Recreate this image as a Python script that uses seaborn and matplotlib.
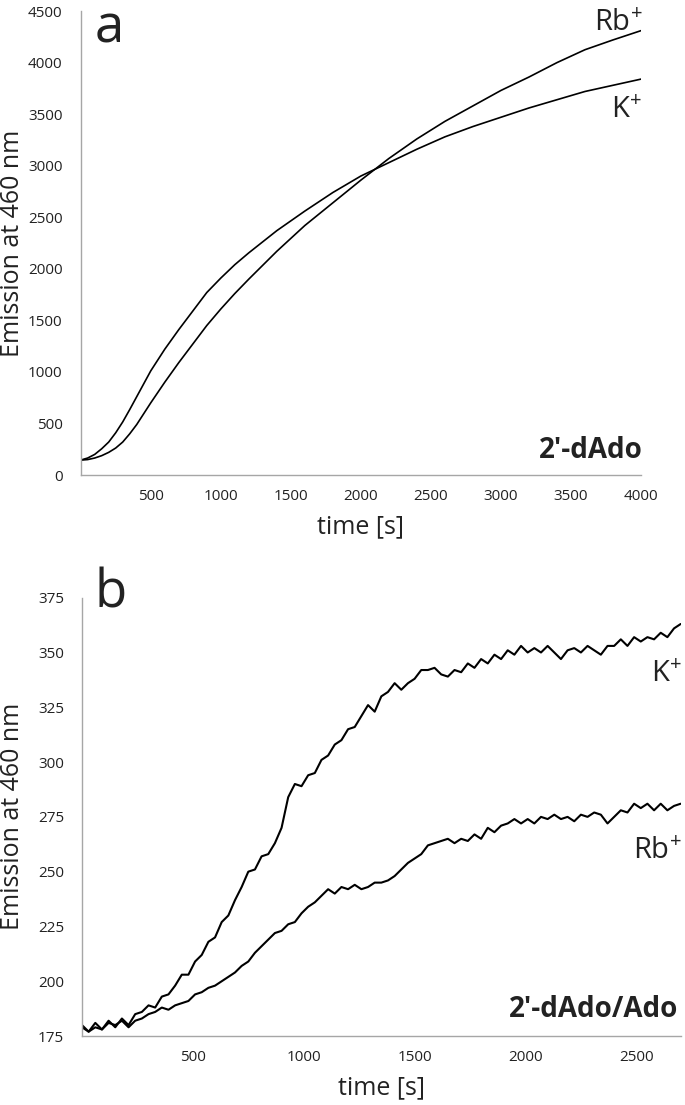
import matplotlib
matplotlib.use('Agg')
import matplotlib.pyplot as plt
import seaborn as sns
import pandas as pd

# panel a: 2'-dAdo, emission vs time
time_a = [0, 50, 100, 150, 200, 250, 300, 350, 400, 450, 500,
          600, 700, 800, 900, 1000, 1100, 1200, 1400, 1600, 1800,
          2000, 2200, 2400, 2600, 2800, 3000, 3200, 3400, 3600, 3800,
          4000]
k_a = [145, 165, 200, 255, 320, 410, 515, 635, 760, 885, 1010,
       1220, 1410, 1590, 1770, 1910, 2040, 2155, 2370, 2560, 2740,
       2900, 3030, 3160, 3280, 3380, 3470, 3560, 3640, 3720, 3780,
       3840]
rb_a = [145, 150, 165, 188, 220, 262, 320, 400, 490, 595, 700,
        900, 1090, 1270, 1450, 1610, 1760, 1900, 2170, 2420, 2640,
        2860, 3070, 3260, 3430, 3580, 3730, 3860, 4000, 4125, 4220,
        4310]

# panel b: 2'-dAdo/Ado, sampled every 30 s
time_b = list(range(0, 2701, 30))
k_b = [179, 177, 181, 178, 182, 179, 183, 180, 185, 186,
       189, 188, 193, 194, 198, 203, 203, 209, 212, 218,
       220, 227, 230, 237, 243, 250, 251, 257, 258, 263,
       270, 284, 290, 289, 294, 295, 301, 303, 308, 310,
       315, 316, 321, 326, 323, 330, 332, 336, 333, 336,
       338, 342, 342, 343, 340, 339, 342, 341, 345, 343,
       347, 345, 349, 347, 351, 349, 353, 350, 352, 350,
       353, 350, 347, 351, 352, 350, 353, 351, 349, 353,
       353, 356, 353, 357, 355, 357, 356, 359, 357, 361,
       363]
rb_b = [180, 177, 179, 178, 181, 180, 182, 179, 182, 183,
        185, 186, 188, 187, 189, 190, 191, 194, 195, 197,
        198, 200, 202, 204, 207, 209, 213, 216, 219, 222,
        223, 226, 227, 231, 234, 236, 239, 242, 240, 243,
        242, 244, 242, 243, 245, 245, 246, 248, 251, 254,
        256, 258, 262, 263, 264, 265, 263, 265, 264, 267,
        265, 270, 268, 271, 272, 274, 272, 274, 272, 275,
        274, 276, 274, 275, 273, 276, 275, 277, 276, 272,
        275, 278, 277, 281, 279, 281, 278, 281, 278, 280,
        281]

sns.set_theme(style='white')
plt.rcParams['font.family'] = ['Open Sans', 'DejaVu Sans']
plt.rcParams['mathtext.fontset'] = 'custom'
plt.rcParams['mathtext.rm'] = 'Open Sans'
plt.rcParams['mathtext.bf'] = 'Open Sans:bold'

AXIS_GREY = '#a6a6a6'
TEXT_COL = '#222222'


def style_axis(ax, xticks, yticks):
    ax.set_xticks(xticks)
    ax.set_xticklabels([''] + [str(t) for t in xticks[1:]])
    ax.set_yticks(yticks)
    ax.set_yticklabels([str(t) for t in yticks])
    for side in ['top', 'right']:
        ax.spines[side].set_visible(False)
    for side in ['left', 'bottom']:
        ax.spines[side].set_color(AXIS_GREY)
        ax.spines[side].set_linewidth(1.0)
    ax.tick_params(axis='both', direction='out', length=4, width=1,
                   color=AXIS_GREY, labelsize=11, labelcolor=TEXT_COL)
    ax.tick_params(axis='y', pad=9)
    ax.tick_params(axis='x', pad=6)
    ax.set_xlabel('time [s]', fontsize=18, color=TEXT_COL)
    ax.set_ylabel('Emission at 460 nm', fontsize=18, color=TEXT_COL)


fig = plt.figure(figsize=(6.85, 11.05), dpi=100)

# ---- panel a
ax1 = fig.add_axes([0.1178, 0.5701, 0.818, 0.4199])
df_a = pd.DataFrame({'time': time_a, 'K': k_a, 'Rb': rb_a})
sns.lineplot(data=df_a, x='time', y='K', ax=ax1, color='black', lw=1.2)
sns.lineplot(data=df_a, x='time', y='Rb', ax=ax1, color='black', lw=1.2)
ax1.set_xlim(0, 4000)
ax1.set_ylim(0, 4500)
style_axis(ax1, list(range(0, 4001, 500)), list(range(0, 4501, 500)))
ax1.xaxis.set_label_coords(0.5, -0.085)
ax1.yaxis.set_label_coords(-0.1, 0.5)
ax1.text(0.0255, 0.933, 'a', transform=ax1.transAxes, fontsize=38,
         color=TEXT_COL, va='baseline', ha='left')
ax1.text(4010, 4310, r'Rb$^{+}$', fontsize=21, color=TEXT_COL,
         ha='right', va='baseline')
ax1.text(4005, 3460, r'K$^{+}$', fontsize=21, color=TEXT_COL,
         ha='right', va='baseline')
ax1.text(4014, 162, "2'-dAdo", fontsize=20, fontweight='bold',
         color=TEXT_COL, ha='right', va='baseline')

# ---- panel b
ax2 = fig.add_axes([0.1197, 0.0624, 0.874, 0.3967])
df_b = pd.DataFrame({'time': time_b, 'K': k_b, 'Rb': rb_b})
sns.lineplot(data=df_b, x='time', y='K', ax=ax2, color='black', lw=1.5)
sns.lineplot(data=df_b, x='time', y='Rb', ax=ax2, color='black', lw=1.5)
ax2.set_xlim(0, 2700)
ax2.set_ylim(175, 375)
style_axis(ax2, list(range(0, 2501, 500)), list(range(175, 376, 25)))
ax2.xaxis.set_label_coords(0.5, -0.09)
ax2.yaxis.set_label_coords(-0.095, 0.5)
ax2.text(0.0217, 0.9765, 'b', transform=ax2.transAxes, fontsize=38,
         color=TEXT_COL, va='baseline', ha='left')
ax2.text(2705, 336.8, r'K$^{+}$', fontsize=21, color=TEXT_COL,
         ha='right', va='baseline')
ax2.text(2705, 255.9, r'Rb$^{+}$', fontsize=21, color=TEXT_COL,
         ha='right', va='baseline')
ax2.text(2688, 183.5, "2'-dAdo/Ado", fontsize=20, fontweight='bold',
         color=TEXT_COL, ha='right', va='baseline')

fig.savefig('out.png', dpi=100)
